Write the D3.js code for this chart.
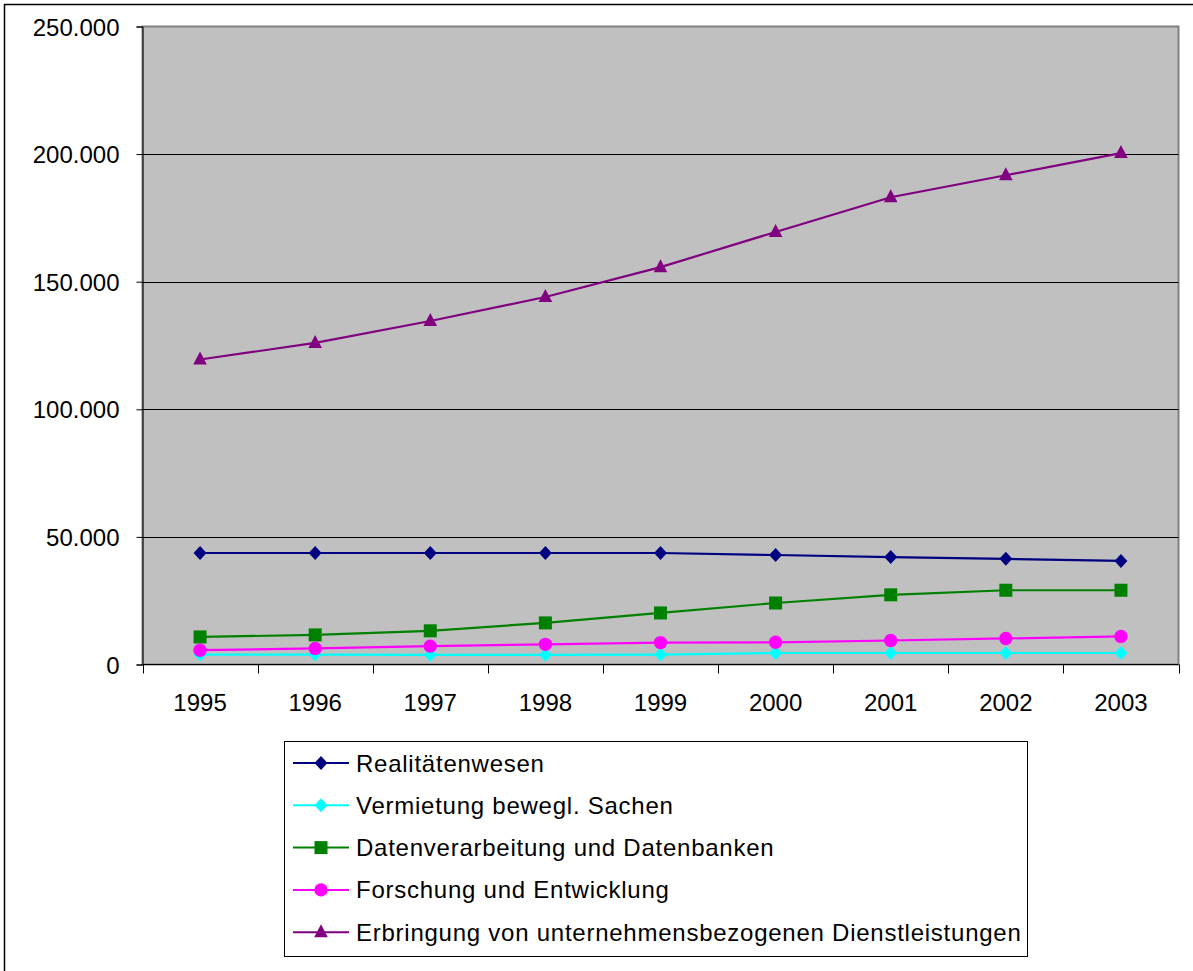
<!DOCTYPE html>
<html>
<head>
<meta charset="utf-8">
<script src="https://cdn.jsdelivr.net/npm/d3@7"></script>
<style>
  body { margin: 0; background: #fff; }
  text { font-family: "Liberation Sans", Arial, sans-serif; fill: #000; }
</style>
</head>
<body>
<div id="chart"></div>
<script>
// data
var years = ["1995", "1996", "1997", "1998", "1999", "2000", "2001", "2002", "2003"];
var realitaeten = [43700, 43700, 43700, 43700, 43700, 42900, 42100, 41400, 40600];
var vermietung  = [3900, 3900, 3800, 3800, 3900, 4500, 4500, 4500, 4500];
var datenverarb = [10800, 11600, 13200, 16300, 20200, 24100, 27300, 29100, 29100];
var forschung   = [5600, 6300, 7200, 7900, 8600, 8700, 9400, 10200, 11000];
var erbringung  = [119500, 126000, 134600, 144000, 155700, 169500, 183100, 191700, 200400];
var yTicks = [0, 50000, 100000, 150000, 200000, 250000];

var seriesNames = ["Realitätenwesen", "Vermietung bewegl. Sachen", "Datenverarbeitung und Datenbanken",
                   "Forschung und Entwicklung", "Erbringung von unternehmensbezogenen Dienstleistungen"];
var seriesValues = [realitaeten, vermietung, datenverarb, forschung, erbringung];
var seriesColors = ["#000080", "#00ffff", "#008000", "#ff00ff", "#800080"];
var seriesSymbols = ["diamond", "diamond", "square", "circle", "triangle"];

var W = 1193, H = 971;
var plot = {left: 142.5, top: 26.5, right: 1178.5, bottom: 664.5};

var de = d3.formatLocale({decimal: ",", thousands: ".", grouping: [3], currency: ["", "€"]});
var fmt = de.format(",");

var svg = d3.select("#chart").append("svg")
    .attr("width", W)
    .attr("height", H);

// outer frame (cut off at right and bottom)
svg.append("rect")
    .attr("x", 4.5).attr("y", 4.5)
    .attr("width", 1300).attr("height", 1100)
    .attr("fill", "none").attr("stroke", "#000").attr("stroke-width", 1.5);

var x = d3.scaleBand().domain(years).range([plot.left, plot.right]);
var y = d3.scaleLinear().domain([0, 250000]).range([plot.bottom, plot.top]);

// plot background
svg.append("rect")
    .attr("x", plot.left).attr("y", plot.top)
    .attr("width", plot.right - plot.left).attr("height", plot.bottom - plot.top)
    .attr("fill", "#c0c0c0")
    .attr("stroke", "#808080").attr("stroke-width", 2);

// gridlines
svg.append("g").selectAll("line")
    .data(yTicks.filter(function(d) { return d > 0 && d < 250000; }))
    .join("line")
    .attr("x1", plot.left).attr("x2", plot.right)
    .attr("y1", function(d) { return Math.round(y(d)) + 0.5; })
    .attr("y2", function(d) { return Math.round(y(d)) + 0.5; })
    .attr("stroke", "#000").attr("stroke-width", 1);

// y axis
var yAxis = d3.axisLeft(y).tickValues(yTicks).tickFormat(fmt).tickSize(6).tickPadding(17);
var gy = svg.append("g")
    .attr("transform", "translate(" + plot.left + ",0)")
    .call(yAxis);
gy.select(".domain").attr("stroke", "#000");
gy.selectAll(".tick line").attr("stroke", "#000");
gy.selectAll("text").attr("font-size", "24px").attr("font-family", "Liberation Sans, Arial, sans-serif")
    .attr("dy", "0.36em");

// x axis: ticks at category boundaries
var gx = svg.append("g")
    .attr("transform", "translate(0," + plot.bottom + ")");
gx.append("line")
    .attr("x1", plot.left).attr("x2", plot.right)
    .attr("stroke", "#000");
var bounds = years.map(function(d) { return x(d); }).concat([plot.right]);
gx.selectAll(".xt")
    .data(bounds)
    .join("line")
    .attr("class", "xt")
    .attr("x1", function(d) { return Math.round(d) + 0.5; })
    .attr("x2", function(d) { return Math.round(d) + 0.5; })
    .attr("y1", 0).attr("y2", 9)
    .attr("stroke", "#000");
gx.selectAll(".xl")
    .data(years)
    .join("text")
    .attr("class", "xl")
    .attr("x", function(d) { return x(d) + x.bandwidth() / 2; })
    .attr("y", 46)
    .attr("text-anchor", "middle")
    .attr("font-size", "24px")
    .text(function(d) { return d; });

// excel-like markers
function symbolPath(kind) {
  if (kind == "diamond") return "M0,-7L6.5,0L0,7L-6.5,0Z";
  if (kind == "square") return "M-6.5,-6.5H6.5V6.5H-6.5Z";
  if (kind == "circle") return d3.symbol().type(d3.symbolCircle).size(140)();
  return "M0,-8L6.8,5L-6.8,5Z";
}

var line = d3.line()
    .x(function(d, i) { return x(years[i]) + x.bandwidth() / 2; })
    .y(function(d) { return y(d); });

var order = [0, 1, 2, 3, 4];
order.forEach(function(s) {
  var g = svg.append("g").attr("class", "series");
  g.append("path")
    .datum(seriesValues[s])
    .attr("d", line)
    .attr("fill", "none")
    .attr("stroke", seriesColors[s])
    .attr("stroke-width", 2.2);
  g.selectAll("path.m")
    .data(seriesValues[s])
    .join("path")
    .attr("class", "m")
    .attr("d", symbolPath(seriesSymbols[s]))
    .attr("transform", function(d, i) {
      return "translate(" + (x(years[i]) + x.bandwidth() / 2) + "," + y(d) + ")";
    })
    .attr("fill", seriesColors[s]);
});

// legend
var legend = svg.append("g");
legend.append("rect")
    .attr("x", 284.5).attr("y", 741.5)
    .attr("width", 743).attr("height", 215)
    .attr("fill", "#fff").attr("stroke", "#000").attr("stroke-width", 1);

var rows = legend.selectAll(".row")
    .data(seriesNames)
    .join("g")
    .attr("class", "row")
    .attr("transform", function(d, i) { return "translate(0," + (763 + i * 42.3) + ")"; });
rows.append("line")
    .attr("x1", 293).attr("x2", 349)
    .attr("stroke", function(d, i) { return seriesColors[i]; })
    .attr("stroke-width", 2);
rows.append("path")
    .attr("d", function(d, i) { return symbolPath(seriesSymbols[i]); })
    .attr("transform", "translate(321,0)")
    .attr("fill", function(d, i) { return seriesColors[i]; });
rows.append("text")
    .attr("x", 356)
    .attr("y", 8.5)
    .attr("font-size", "24px")
    .attr("letter-spacing", "0.75px")
    .text(function(d) { return d; });
</script>
</body>
</html>
